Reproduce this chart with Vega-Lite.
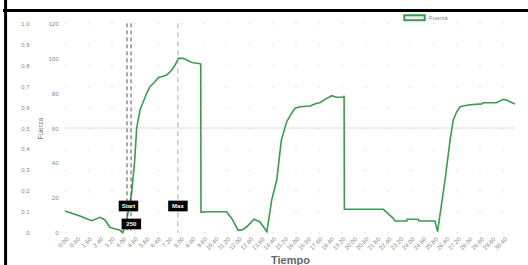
{
  "$schema": "https://vega.github.io/schema/vega-lite/v6.json",
  "width": 450,
  "height": 209.4,
  "autosize": "none",
  "padding": {"left": 65, "top": 23.3, "right": 13, "bottom": 32.3},
  "background": "white",
  "config": {
    "view": {"stroke": null},
    "font": "Liberation Sans",
    "axisX": {
      "labelOverlap": false, "labelBound": false, "labelFlush": false,
      "format": ".2f",
      "labelAngle": -45,
      "labelFontSize": 6,
      "labelColor": "#888888",
      "labelPadding": 3,
      "ticks": false,
      "domain": false,
      "grid": false,
      "titleFontSize": 11,
      "titleFontWeight": "bold",
      "titleColor": "#666666",
      "titlePadding": 4
    },
    "axisY": {
      "labelOverlap": false, "labelBound": false, "labelFlush": false,
      "labelFontSize": 6,
      "labelColor": "#888888",
      "ticks": false,
      "domain": false
    }
  },
  "datasets": {
    "one": [{"k": 1}],
    "series": [
      {"t": 0, "f": 12.4}, {"t": 1.04, "f": 9.6}, {"t": 1.73, "f": 7.3}, {"t": 1.85, "f": 6.9},
      {"t": 2.43, "f": 8.8}, {"t": 2.77, "f": 7.3}, {"t": 3.12, "f": 3.1}, {"t": 3.47, "f": 2.1},
      {"t": 3.81, "f": 1.5}, {"t": 4.0, "f": 0}, {"t": 4.28, "f": 7.3}, {"t": 4.62, "f": 22.7},
      {"t": 4.82, "f": 40}, {"t": 4.97, "f": 60}, {"t": 5.2, "f": 70.3}, {"t": 5.43, "f": 75},
      {"t": 5.66, "f": 79.9}, {"t": 5.89, "f": 83.7}, {"t": 6.24, "f": 86.5}, {"t": 6.47, "f": 89},
      {"t": 6.7, "f": 89.4}, {"t": 7.05, "f": 90.4}, {"t": 7.4, "f": 93.2}, {"t": 7.63, "f": 96.1},
      {"t": 7.86, "f": 99.9}, {"t": 8.2, "f": 99.9}, {"t": 8.44, "f": 99}, {"t": 8.67, "f": 98},
      {"t": 8.9, "f": 97.4}, {"t": 9.3, "f": 97}, {"t": 9.41, "f": 96.7}, {"t": 9.43, "f": 11.7},
      {"t": 9.94, "f": 12.0}, {"t": 11.2, "f": 12.0}, {"t": 11.56, "f": 8.2}, {"t": 12.0, "f": 1.5},
      {"t": 12.25, "f": 1.5}, {"t": 12.6, "f": 3.4}, {"t": 13.1, "f": 7.7}, {"t": 13.5, "f": 6.3},
      {"t": 14.0, "f": 0.6}, {"t": 14.33, "f": 18.7}, {"t": 14.68, "f": 30.2}, {"t": 15.0, "f": 53},
      {"t": 15.37, "f": 63.6}, {"t": 15.7, "f": 68.4}, {"t": 15.95, "f": 71.3}, {"t": 16.3, "f": 72.2},
      {"t": 17.0, "f": 72.6}, {"t": 17.45, "f": 74.2}, {"t": 17.68, "f": 74.5}, {"t": 18.03, "f": 76.4},
      {"t": 18.5, "f": 78.5}, {"t": 18.83, "f": 77.6}, {"t": 19.3, "f": 77.6}, {"t": 19.35, "f": 78.5},
      {"t": 19.37, "f": 13.4}, {"t": 22.07, "f": 13.4}, {"t": 22.3, "f": 11.7}, {"t": 22.76, "f": 8.2},
      {"t": 22.88, "f": 6.7}, {"t": 23.7, "f": 6.7}, {"t": 23.73, "f": 7.7}, {"t": 24.5, "f": 7.7},
      {"t": 24.54, "f": 6.7}, {"t": 25.65, "f": 6.7}, {"t": 25.83, "f": 0.6}, {"t": 26.1, "f": 15.9},
      {"t": 26.35, "f": 30.2}, {"t": 26.7, "f": 53.1}, {"t": 26.92, "f": 64.6}, {"t": 27.16, "f": 69.3},
      {"t": 27.4, "f": 72.2}, {"t": 27.96, "f": 73.2}, {"t": 28.9, "f": 73.8}, {"t": 29.0, "f": 74.5},
      {"t": 29.9, "f": 74.5}, {"t": 30.4, "f": 76.4}, {"t": 30.6, "f": 76}, {"t": 31.2, "f": 73.8}
    ],
    "startLines": [{"t": 4.3}, {"t": 4.58}],
    "maxLines": [{"t": 7.83}],
    "notes": [
      {"t": 4.4, "f": 15.3, "label": "Start"},
      {"t": 4.6, "f": 5.0, "label": "250"},
      {"t": 7.83, "f": 15.3, "label": "Max"}
    ]
  },
  "layer": [
    {
      "layer": [
        {
          "data": {"name": "one"},
          "mark": {"type": "rule", "color": "#dddddd", "strokeWidth": 1},
          "encoding": {
            "y": {"datum": 60, "type": "quantitative", "scale": {"domain": [0, 120], "nice": false},
              "axis": {"title": "Fuerza", "values": [0, 20, 40, 60, 80, 100, 120], "labelOverlap": false, "labelPadding": 7, "grid": false, "titleFontSize": 7, "titleFontWeight": "normal", "titleColor": "#777777", "titlePadding": 4}}
          }
        },
        {
          "data": {"name": "series"},
          "mark": {"type": "line", "strokeWidth": 1.6},
          "encoding": {
            "x": {
              "field": "t", "type": "quantitative",
              "scale": {"domain": [0, 31.2], "nice": false, "zero": false},
              "axis": {"title": "Tiempo", "labelOverlap": false, "values": [0, 0.8, 1.6, 2.4, 3.2, 4.0, 4.8, 5.6, 6.4, 7.2, 8.0, 8.8, 9.6, 10.4, 11.2, 12.0, 12.8, 13.6, 14.4, 15.2, 16.0, 16.8, 17.6, 18.4, 19.2, 20.0, 20.8, 21.6, 22.4, 23.2, 24.0, 24.8, 25.6, 26.4, 27.2, 28.0, 28.8, 29.6, 30.4]}
            },
            "y": {
              "field": "f", "type": "quantitative",
              "scale": {"domain": [0, 120], "nice": false},
              "axis": {"title": "Fuerza", "values": [0, 20, 40, 60, 80, 100, 120], "labelOverlap": false, "labelPadding": 7, "grid": false, "titleFontSize": 7, "titleFontWeight": "normal", "titleColor": "#777777", "titlePadding": 4}
            },
            "color": {
              "datum": "Fuerza",
              "scale": {"range": ["#3d9a4f"]},
              "legend": {
                "title": null,
                "orient": "none",
                "legendX": 338,
                "legendY": -17,
                "symbolType": "M-1,-0.25L1,-0.25L1,0.25L-1,0.25Z",
                "symbolSize": 420,
                "symbolStrokeWidth": 2,
                "labelFontSize": 6,
                "labelColor": "#888888",
                "labelOffset": 3,
                "encode": {"symbols": {"update": {"fill": {"value": "#eeeeee"}}}}
              }
            }
          }
        },
        {
          "data": {"name": "startLines"},
          "mark": {"type": "rule", "color": "#555555", "strokeWidth": 1, "strokeDash": [4, 3]},
          "encoding": {
            "x": {"field": "t", "type": "quantitative", "scale": {"domain": [0, 31.2], "nice": false, "zero": false},
              "axis": {"title": "Tiempo", "labelOverlap": false, "values": [0, 0.8, 1.6, 2.4, 3.2, 4.0, 4.8, 5.6, 6.4, 7.2, 8.0, 8.8, 9.6, 10.4, 11.2, 12.0, 12.8, 13.6, 14.4, 15.2, 16.0, 16.8, 17.6, 18.4, 19.2, 20.0, 20.8, 21.6, 22.4, 23.2, 24.0, 24.8, 25.6, 26.4, 27.2, 28.0, 28.8, 29.6, 30.4]}}
          }
        },
        {
          "data": {"name": "maxLines"},
          "mark": {"type": "rule", "color": "#aaaaaa", "strokeWidth": 1, "strokeDash": [5, 4]},
          "encoding": {
            "x": {"field": "t", "type": "quantitative", "scale": {"domain": [0, 31.2], "nice": false, "zero": false},
              "axis": {"title": "Tiempo", "labelOverlap": false, "values": [0, 0.8, 1.6, 2.4, 3.2, 4.0, 4.8, 5.6, 6.4, 7.2, 8.0, 8.8, 9.6, 10.4, 11.2, 12.0, 12.8, 13.6, 14.4, 15.2, 16.0, 16.8, 17.6, 18.4, 19.2, 20.0, 20.8, 21.6, 22.4, 23.2, 24.0, 24.8, 25.6, 26.4, 27.2, 28.0, 28.8, 29.6, 30.4]}}
          }
        },
        {
          "data": {"name": "notes"},
          "mark": {"type": "point", "shape": "M-1,-0.55L1,-0.55L1,0.55L-1,0.55Z", "filled": true, "color": "black", "opacity": 1, "size": 380},
          "encoding": {
            "x": {"field": "t", "type": "quantitative", "scale": {"domain": [0, 31.2], "nice": false, "zero": false},
              "axis": {"title": "Tiempo", "labelOverlap": false, "values": [0, 0.8, 1.6, 2.4, 3.2, 4.0, 4.8, 5.6, 6.4, 7.2, 8.0, 8.8, 9.6, 10.4, 11.2, 12.0, 12.8, 13.6, 14.4, 15.2, 16.0, 16.8, 17.6, 18.4, 19.2, 20.0, 20.8, 21.6, 22.4, 23.2, 24.0, 24.8, 25.6, 26.4, 27.2, 28.0, 28.8, 29.6, 30.4]}},
            "y": {"field": "f", "type": "quantitative", "scale": {"domain": [0, 120], "nice": false},
              "axis": {"title": "Fuerza", "values": [0, 20, 40, 60, 80, 100, 120], "labelOverlap": false, "labelPadding": 7, "grid": false, "titleFontSize": 7, "titleFontWeight": "normal", "titleColor": "#777777", "titlePadding": 4}}
          }
        },
        {
          "data": {"name": "notes"},
          "mark": {"type": "text", "color": "white", "fontSize": 6, "fontWeight": "bold", "align": "center", "baseline": "middle"},
          "encoding": {
            "x": {"field": "t", "type": "quantitative", "scale": {"domain": [0, 31.2], "nice": false, "zero": false},
              "axis": {"title": "Tiempo", "labelOverlap": false, "values": [0, 0.8, 1.6, 2.4, 3.2, 4.0, 4.8, 5.6, 6.4, 7.2, 8.0, 8.8, 9.6, 10.4, 11.2, 12.0, 12.8, 13.6, 14.4, 15.2, 16.0, 16.8, 17.6, 18.4, 19.2, 20.0, 20.8, 21.6, 22.4, 23.2, 24.0, 24.8, 25.6, 26.4, 27.2, 28.0, 28.8, 29.6, 30.4]}},
            "y": {"field": "f", "type": "quantitative", "scale": {"domain": [0, 120], "nice": false},
              "axis": {"title": "Fuerza", "values": [0, 20, 40, 60, 80, 100, 120], "labelOverlap": false, "labelPadding": 7, "grid": false, "titleFontSize": 7, "titleFontWeight": "normal", "titleColor": "#777777", "titlePadding": 4}},
            "text": {"field": "label"}
          }
        },
        {
          "data": {"name": "one"},
          "mark": {"type": "rule", "color": "black", "strokeWidth": 3},
          "encoding": {
            "x": {"datum": -4.3, "type": "quantitative", "scale": {"domain": [0, 31.2], "nice": false, "zero": false},
              "axis": {"title": "Tiempo", "labelOverlap": false, "values": [0, 0.8, 1.6, 2.4, 3.2, 4.0, 4.8, 5.6, 6.4, 7.2, 8.0, 8.8, 9.6, 10.4, 11.2, 12.0, 12.8, 13.6, 14.4, 15.2, 16.0, 16.8, 17.6, 18.4, 19.2, 20.0, 20.8, 21.6, 22.4, 23.2, 24.0, 24.8, 25.6, 26.4, 27.2, 28.0, 28.8, 29.6, 30.4]}},
            "x2": {"datum": 33},
            "y": {"datum": 127.4, "type": "quantitative", "scale": {"domain": [0, 120], "nice": false},
              "axis": {"title": "Fuerza", "values": [0, 20, 40, 60, 80, 100, 120], "labelOverlap": false, "labelPadding": 7, "grid": false, "titleFontSize": 7, "titleFontWeight": "normal", "titleColor": "#777777", "titlePadding": 4}}
          }
        },
        {
          "data": {"name": "one"},
          "mark": {"type": "rule", "color": "black", "strokeWidth": 3},
          "encoding": {
            "x": {"datum": -4.12, "type": "quantitative", "scale": {"domain": [0, 31.2], "nice": false, "zero": false},
              "axis": {"title": "Tiempo", "labelOverlap": false, "values": [0, 0.8, 1.6, 2.4, 3.2, 4.0, 4.8, 5.6, 6.4, 7.2, 8.0, 8.8, 9.6, 10.4, 11.2, 12.0, 12.8, 13.6, 14.4, 15.2, 16.0, 16.8, 17.6, 18.4, 19.2, 20.0, 20.8, 21.6, 22.4, 23.2, 24.0, 24.8, 25.6, 26.4, 27.2, 28.0, 28.8, 29.6, 30.4]}},
            "y": {"datum": 134, "type": "quantitative", "scale": {"domain": [0, 120], "nice": false},
              "axis": {"title": "Fuerza", "values": [0, 20, 40, 60, 80, 100, 120], "labelOverlap": false, "labelPadding": 7, "grid": false, "titleFontSize": 7, "titleFontWeight": "normal", "titleColor": "#777777", "titlePadding": 4}},
            "y2": {"datum": -19}
          }
        }
      ]
    },
    {
      "data": {"name": "one"},
      "mark": {"type": "point", "opacity": 0},
      "encoding": {
        "y": {
          "datum": 0, "type": "quantitative",
          "scale": {"domain": [0, 1], "nice": false},
          "axis": {
            "orient": "left",
            "offset": 34,
            "title": null,
            "values": [0, 0.1, 0.2, 0.3, 0.4, 0.5, 0.6, 0.7, 0.8, 0.9, 1.0],
            "labelExpr": "datum.value == 0 ? '0' : replace(format(datum.value, '.1f'), '.', ',')",
            "labelPadding": 2,
            "labelOverlap": false,
            "grid": true,
            "gridColor": "#c8c8c8",
            "gridDash": [1, 22],
            "gridWidth": 1
          }
        }
      }
    }
  ],
  "resolve": {"scale": {"y": "independent"}}
}
